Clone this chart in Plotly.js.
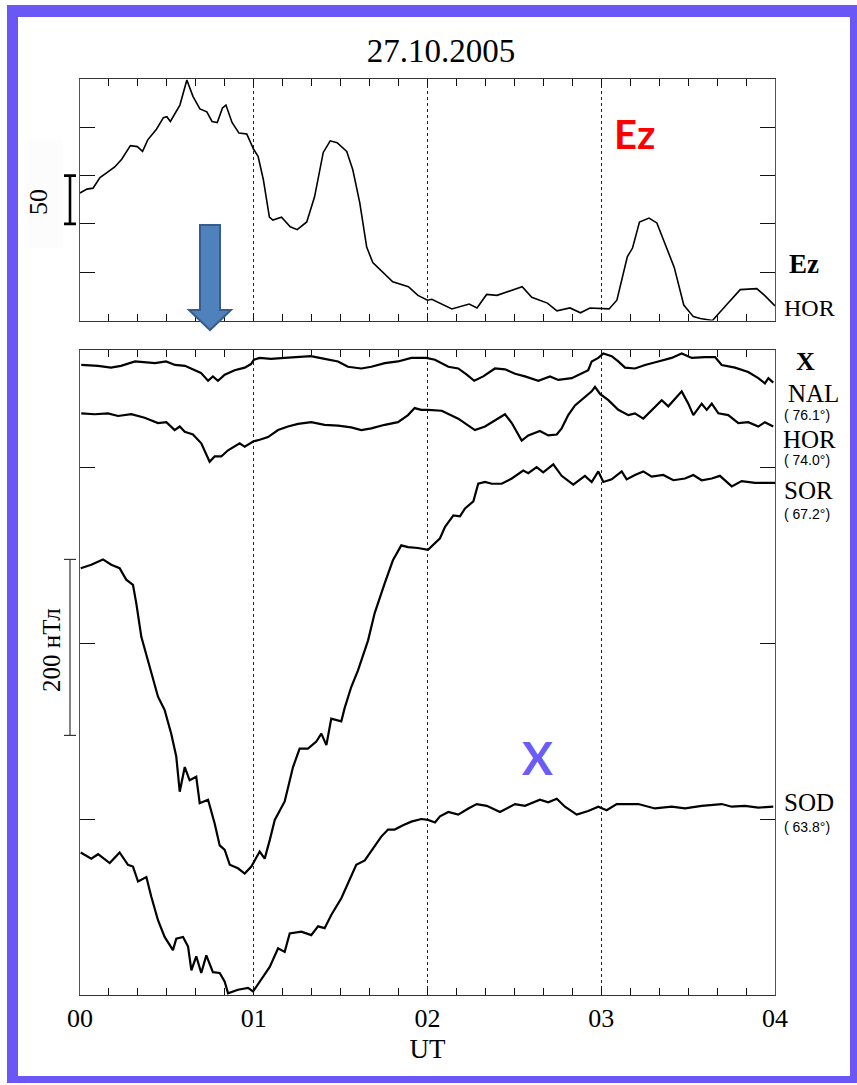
<!DOCTYPE html>
<html>
<head>
<meta charset="utf-8">
<script src="https://cdn.plot.ly/plotly-3.0.1.min.js"></script>
<style>
  html, body { margin: 0; padding: 0; background: #ffffff; }
  #chart { width: 857px; height: 1085px; }
</style>
</head>
<body>
<div id="chart"></div>
<script>
// Ez at HOR, in arbitrary units (scale bar = 50), time in hours UT
const ezTime = [0.00,0.04,0.075,0.115,0.155,0.20,0.24,0.29,0.33,0.36,0.39,0.44,0.48,0.50,0.52,0.575,0.615,0.65,0.69,0.73,0.76,0.79,0.82,0.84,0.875,0.915,0.96,1.00,1.025,1.055,1.09,1.11,1.16,1.21,1.25,1.305,1.35,1.40,1.44,1.48,1.535,1.57,1.61,1.65,1.685,1.74,1.80,1.89,1.945,2.00,2.025,2.14,2.24,2.285,2.34,2.40,2.47,2.545,2.60,2.69,2.745,2.82,2.88,2.935,3.045,3.09,3.15,3.18,3.22,3.275,3.32,3.37,3.42,3.475,3.53,3.57,3.64,3.72,3.80,3.895,3.94,4.00];
const ezHOR = [132,136,137,148,153,159,167,181,180,175,187,198,210,211,206,223,249,232,219,216,206,205,220,223,205,194,193,177,170,146,107,104,107,97,94,102,128,174,186,184,175,156,122,76,60,50,40,35,26,21,22,12,17,13,27,26,30,35,24,18,10,13,8,13,12,21,66,75,102,106,101,78,55,16,4,2,0,16,32,33,26,15];

// X component, nT (offset stack; scale bar = 200 nT)
const nalTime = [0.007,0.104,0.178,0.236,0.317,0.374,0.432,0.495,0.547,0.604,0.650,0.696,0.737,0.765,0.794,0.833,0.890,0.948,0.984,1.001,1.034,1.099,1.178,1.255,1.329,1.408,1.485,1.542,1.619,1.677,1.754,1.830,1.907,1.993,2.043,2.120,2.177,2.226,2.269,2.321,2.388,2.446,2.504,2.561,2.638,2.705,2.753,2.830,2.887,2.925,2.945,2.983,3.012,3.060,3.098,3.137,3.194,3.252,3.328,3.405,3.463,3.521,3.597,3.655,3.693,3.770,3.846,3.904,3.942,3.962,3.990];
const nalX = [716,715,713,715,720,719,718,720,716,715,711,707,698,703,698,705,710,713,717,722,724,723,724,725,726,723,720,714,712,714,718,720,724,724,722,714,712,705,698,703,712,711,706,703,698,703,699,701,706,710,720,724,729,726,720,713,712,716,720,724,729,724,725,725,716,713,708,701,695,701,696];

const horTime = [0.007,0.085,0.161,0.219,0.295,0.372,0.449,0.497,0.545,0.574,0.603,0.650,0.698,0.727,0.746,0.775,0.813,0.852,0.890,0.919,0.948,0.996,1.034,1.082,1.140,1.197,1.255,1.331,1.408,1.485,1.561,1.619,1.677,1.754,1.830,1.888,1.926,1.964,2.003,2.082,2.177,2.273,2.331,2.388,2.446,2.485,2.523,2.542,2.580,2.647,2.695,2.744,2.772,2.810,2.849,2.906,2.945,2.964,2.993,3.041,3.098,3.156,3.194,3.242,3.290,3.348,3.386,3.463,3.501,3.530,3.578,3.607,3.636,3.674,3.731,3.789,3.846,3.904,3.942,3.990];
const horX = [661,660,661,658,660,656,650,651,642,646,640,637,627,614,606,612,612,619,623,627,623,629,631,634,642,646,649,651,648,647,645,642,644,648,651,659,667,665,665,664,655,642,646,653,660,650,636,630,636,641,636,637,644,659,670,680,686,691,683,676,665,659,661,655,665,676,669,686,672,659,672,665,672,661,659,650,651,646,651,646];

const sorTime = [0.004,0.065,0.132,0.180,0.228,0.266,0.305,0.324,0.353,0.391,0.449,0.487,0.525,0.554,0.574,0.603,0.631,0.669,0.689,0.737,0.775,0.804,0.833,0.862,0.909,0.948,0.986,1.034,1.063,1.092,1.121,1.178,1.226,1.264,1.312,1.360,1.389,1.418,1.446,1.504,1.523,1.561,1.600,1.658,1.696,1.754,1.801,1.849,1.888,1.945,2.003,2.072,2.101,2.149,2.187,2.216,2.264,2.292,2.331,2.370,2.427,2.485,2.551,2.580,2.628,2.666,2.724,2.772,2.839,2.906,2.945,2.983,3.012,3.060,3.118,3.146,3.194,3.242,3.290,3.357,3.415,3.482,3.530,3.578,3.636,3.683,3.751,3.808,3.885,4.000];
const sorX = [485,489,495,489,485,472,466,445,407,381,339,324,297,271,231,259,244,248,218,222,195,170,165,148,144,138,146,163,155,176,199,220,259,280,280,288,297,284,314,311,326,350,369,403,434,468,494,511,509,508,506,519,532,545,544,553,561,581,583,581,581,587,596,593,600,594,603,590,580,590,583,595,583,586,595,586,591,595,589,591,585,587,591,585,587,590,578,584,582,582];

const sodTime = [0.004,0.065,0.104,0.171,0.228,0.276,0.305,0.334,0.382,0.410,0.449,0.487,0.535,0.554,0.593,0.622,0.641,0.669,0.698,0.727,0.765,0.804,0.833,0.852,0.909,0.967,0.996,1.043,1.092,1.140,1.178,1.207,1.274,1.331,1.370,1.408,1.446,1.504,1.542,1.590,1.639,1.686,1.734,1.773,1.811,1.859,1.907,1.964,2.003,2.043,2.072,2.120,2.177,2.235,2.283,2.341,2.417,2.504,2.561,2.647,2.695,2.744,2.791,2.859,2.925,2.983,3.031,3.089,3.213,3.309,3.405,3.482,3.578,3.693,3.751,3.827,3.904,3.990];
const sodX = [162,155,160,150,162,148,146,129,134,112,85,66,51,64,66,55,28,44,25,45,26,25,15,2,6,8,4,17,32,53,49,70,72,68,78,76,91,110,127,148,153,167,180,188,188,193,197,200,199,196,203,208,205,212,217,215,208,217,215,222,219,223,214,205,209,214,210,217,217,212,214,212,215,217,214,215,213,214];

const hourLabels = ['00', '01', '02', '03', '04'];
const hourTicks = [0, 1, 2, 3, 4];

// Page geometry helpers (pixel -> paper fraction)
const W = 857, H = 1085;
const px = x => x / W;
const py = y => 1 - y / H;

const SERIF = 'Liberation Serif, Times New Roman, serif';
const SANS = 'Liberation Sans, Arial, sans-serif';
const INK = '#111111';
const FRAME = '#6b57f5';

const lineStyle = w => ({ color: '#000000', width: w });

const traces = [
  { x: ezTime, y: ezHOR, xaxis: 'x', yaxis: 'y', mode: 'lines', line: lineStyle(1.6), hoverinfo: 'skip' },
  { x: nalTime, y: nalX, xaxis: 'x2', yaxis: 'y2', mode: 'lines', line: lineStyle(2.2), hoverinfo: 'skip' },
  { x: horTime, y: horX, xaxis: 'x2', yaxis: 'y2', mode: 'lines', line: lineStyle(2.2), hoverinfo: 'skip' },
  { x: sorTime, y: sorX, xaxis: 'x2', yaxis: 'y2', mode: 'lines', line: lineStyle(2.2), hoverinfo: 'skip' },
  { x: sodTime, y: sodX, xaxis: 'x2', yaxis: 'y2', mode: 'lines', line: lineStyle(2.2), hoverinfo: 'skip' }
];

const timeAxis = (anchor, labels) => ({
  domain: [px(80), px(775)],
  anchor: anchor,
  range: [0, 4],
  tickmode: 'array',
  tickvals: hourTicks,
  ticktext: hourLabels,
  showticklabels: labels,
  tickfont: { family: SERIF, size: 26, color: '#000' },
  ticks: 'inside',
  ticklen: 7,
  tickwidth: 1,
  tickcolor: INK,
  minor: { tickmode: 'linear', tick0: 0, dtick: 1 / 6, ticks: 'inside', ticklen: 7, tickwidth: 1, tickcolor: INK, showgrid: false },
  showgrid: true,
  griddash: 'dot',
  gridcolor: '#222222',
  gridwidth: 1,
  showline: true,
  linecolor: '#333333',
  linewidth: 1.2,
  mirror: 'ticks',
  zeroline: false,
  fixedrange: true
});

const valueAxis = (domain, range, step) => ({
  domain: domain,
  range: range,
  tickmode: 'linear',
  tick0: 0,
  dtick: step,
  ticks: 'inside',
  ticklen: 15,
  tickwidth: 1,
  tickcolor: INK,
  showticklabels: false,
  showgrid: false,
  zeroline: false,
  showline: true,
  linecolor: '#555555',
  linewidth: 1.2,
  mirror: 'ticks',
  fixedrange: true
});

const xBottom = timeAxis('y2', true);
xBottom.title = { text: 'UT', font: { family: SERIF, size: 27, color: '#000' }, standoff: 6 };

const label = (text, x, y, size, opts = {}) => Object.assign({
  text: text, xref: 'paper', yref: 'paper', x: px(x), y: py(y),
  xanchor: 'left', yanchor: 'middle', showarrow: false,
  font: { family: SERIF, size: size, color: '#000' }
}, opts);

const latLabel = (text, x, y) => label(text, x, y, 14, { font: { family: SANS, size: 14, color: '#000' }, borderpad: 0 });

const annotations = [
  label('Ez', 612, 134, 40, { font: { family: 'Lato, Open Sans, sans-serif', size: 40, color: '#ff0000', weight: 'bold' } }),
  label('X', 520, 757, 46, { font: { family: 'Lato, Open Sans, sans-serif', size: 46, color: '#6b5cf5', weight: 'bold' } }),
  label('<b>Ez</b>', 787, 264, 27),
  label('HOR', 782, 308, 24),
  label('<b>X</b>', 794, 361, 26),
  label('NAL', 787, 393, 25, { borderpad: 0 }),
  latLabel('( 76.1°)', 783, 415),
  label('HOR', 782, 439, 25, { borderpad: 0 }),
  latLabel('( 74.0°)', 783, 460),
  label('SOR', 783, 490, 25, { borderpad: 0 }),
  latLabel('( 67.2°)', 783, 514),
  label('SOD', 783, 802, 25, { borderpad: 0 }),
  latLabel('( 63.8°)', 783, 827),
  label('50', 38, 202, 26, { xanchor: 'center', textangle: -90 }),
  label('200 нТл', 51, 650, 25, { xanchor: 'center', textangle: -90 })
];

const rect = (x0, y0, x1, y1, color) => ({
  type: 'rect', xref: 'paper', yref: 'paper',
  x0: px(x0), x1: px(x1), y0: py(y0), y1: py(y1),
  fillcolor: color, line: { width: 0 }, layer: 'below'
});

// scale bars drawn in the units of each panel
const bar = (yref, v0, v1, width, color) => [
  { type: 'line', xref: 'paper', yref: yref, x0: px(70), x1: px(70), y0: v0, y1: v1, line: { color: color, width: width } },
  { type: 'line', xref: 'paper', yref: yref, x0: px(64), x1: px(76), y0: v0, y1: v0, line: { color: color, width: width } },
  { type: 'line', xref: 'paper', yref: yref, x0: px(64), x1: px(76), y0: v1, y1: v1, line: { color: color, width: width } }
];

const arrowPts = [[200, 225], [220, 225], [220, 310], [231, 310], [210, 330], [189, 310], [200, 310]];
const arrowPath = 'M ' + arrowPts.map(p => px(p[0]).toFixed(5) + ' ' + py(p[1]).toFixed(5)).join(' L ') + ' Z';

const shapes = [
  rect(7, 5, 18, 1083, FRAME),
  rect(7, 5, 857, 17, FRAME),
  rect(850, 5, 857, 1083, FRAME),
  rect(7, 1076, 857, 1083, FRAME),
  rect(27, 140, 63, 248, '#fcfcfc'),
  ...bar('y', 100, 150, 2.6, '#000000'),
  ...bar('y2', 295, 495, 1.2, '#333333'),
  { type: 'path', xref: 'paper', yref: 'paper', path: arrowPath, fillcolor: '#4f81bd', line: { color: '#385d8a', width: 2 }, layer: 'above' }
];

const layout = {
  width: W,
  height: H,
  margin: { l: 0, r: 0, t: 0, b: 0, pad: 0 },
  paper_bgcolor: '#ffffff',
  plot_bgcolor: 'rgba(0,0,0,0)',
  showlegend: false,
  title: {
    text: '27.10.2005',
    font: { family: SERIF, size: 33, color: '#000' },
    xref: 'paper', yref: 'container',
    x: px(441), xanchor: 'center',
    y: py(50), yanchor: 'middle'
  },
  xaxis: timeAxis('y', false),
  yaxis: valueAxis([py(320.5), py(79)], [0, 250], 50),
  xaxis2: xBottom,
  yaxis2: valueAxis([py(995), py(350)], [0, 733], 200),
  annotations: annotations,
  shapes: shapes
};

Plotly.newPlot('chart', traces, layout, { staticPlot: true, displayModeBar: false });
</script>
</body>
</html>
